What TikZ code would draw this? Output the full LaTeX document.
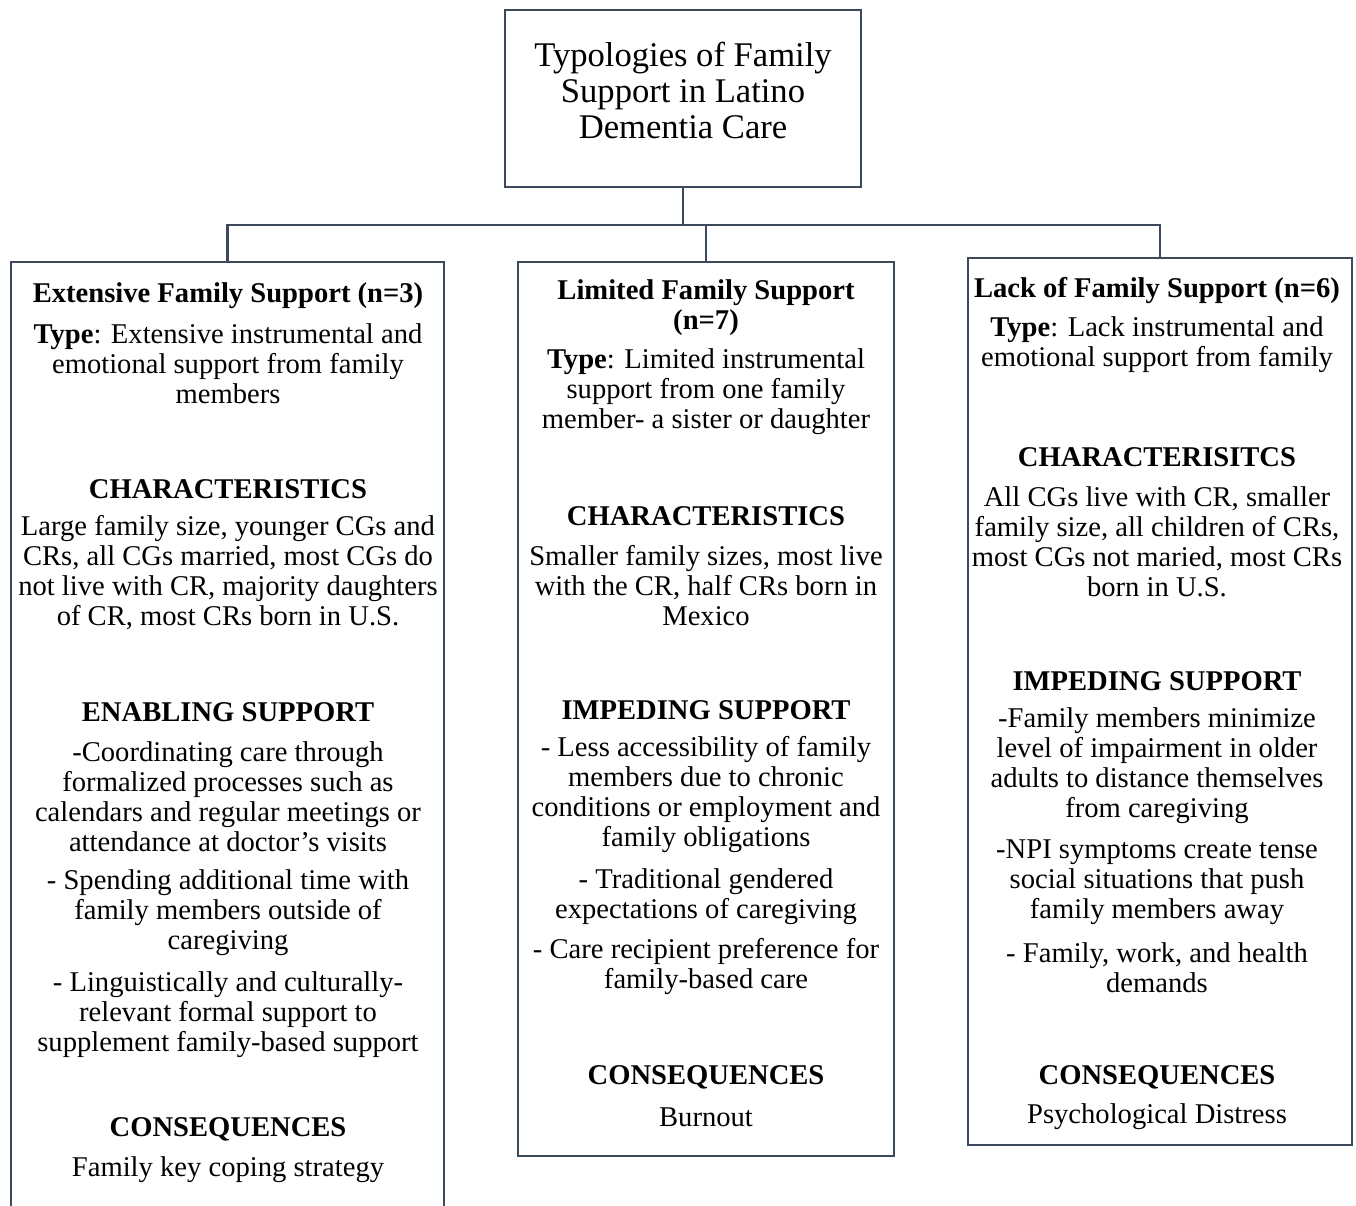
\documentclass[tikz,border=0pt]{standalone}
\usepackage{fontspec}
\setmainfont{Liberation Serif}
\definecolor{boxline}{HTML}{3D4A5C}
\begin{document}
\begin{tikzpicture}[x=1pt,y=-1pt,
  box/.style={draw=boxline, line width=2.2pt, fill=white, inner sep=0pt, outer sep=0pt},
  conn/.style={draw=boxline, line width=2.2pt},
  txt/.style={align=center, inner sep=0pt, font=\fontsize{28.6}{30}\selectfont},
  hd/.style={align=center, inner sep=0pt, font=\fontsize{28.6}{30}\selectfont\bfseries},
  ttl/.style={align=center, inner sep=0pt, font=\fontsize{34.6}{36}\selectfont}]
\clip (0,0) rectangle (1356,1205);
\fill[white] (0,0) rectangle (1356,1205);
% boxes
\node[box, anchor=north west, minimum width=356, minimum height=177] (top) at (505,10) {};
\node[box, anchor=north west, minimum width=433, minimum height=980] (left) at (11,262) {};
\node[box, anchor=north west, minimum width=376, minimum height=894] (mid) at (518,262) {};
\node[box, anchor=north west, minimum width=384, minimum height=887] (right) at (968,258) {};
% connectors
\coordinate (bus) at (683,225);
\draw[conn] (top.south) -- (bus);
\draw[conn] (left.north) -- (left.north |- bus) -- (right.north |- bus) -- (right.north);
\draw[conn] (mid.north) -- (mid.north |- bus);
% title
\node[ttl] (title) at (683,90) {Typologies of Family\\Support in Latino\\Dementia Care};
% left column
\node[hd] (l1) at (228,296) {Extensive Family Support (n=3)};
\node[txt] (l2) at (228,364) {\textbf{Type}: Extensive instrumental and\\emotional support from family\\members};
\node[hd] (l3) at (228,489) {CHARACTERISTICS};
\node[txt] (l4) at (228,573) {Large family size, younger CGs and\\CRs, all CGs married, most CGs do\\not live with CR, majority daughters\\of CR, most CRs born in U.S.};
\node[hd] (l5) at (228,712) {ENABLING SUPPORT};
\node[txt] (l6) at (228,797) {-Coordinating care through\\formalized processes such as\\calendars and regular meetings or\\attendance at doctor’s visits};
\node[txt] (l7) at (228,913) {- Spending additional time with\\family members outside of\\caregiving};
\node[txt] (l8) at (228,1015) {- Linguistically and culturally-\\relevant formal support to\\supplement family-based support};
\node[hd] (l9) at (228,1129) {CONSEQUENCES};
\node[txt] (l10) at (228,1170) {Family key coping strategy};
% middle column
\node[hd] (m1) at (706,308) {Limited Family Support\\(n=7)};
\node[txt] (m2) at (706,392) {\textbf{Type}: Limited instrumental\\support from one family\\member- a sister or daughter};
\node[hd] (m3) at (706,516) {CHARACTERISTICS};
\node[txt] (m4) at (706,586) {Smaller family sizes, most live\\with the CR, half CRs born in\\Mexico};
\node[hd] (m5) at (706,710) {IMPEDING SUPPORT};
\node[txt] (m6) at (706,795) {- Less accessibility of family\\members due to chronic\\conditions or employment and\\family obligations};
\node[txt] (m7) at (706,896.5) {- Traditional gendered\\expectations of caregiving};
\node[txt] (m8) at (706,967) {- Care recipient preference for\\family-based care};
\node[hd] (m9) at (706,1077) {CONSEQUENCES};
\node[txt] (m10) at (706,1117) {Burnout};
% right column
\node[hd] (r1) at (1157,291) {Lack of Family Support (n=6)};
\node[txt] (r2) at (1157,345) {\textbf{Type}: Lack instrumental and\\emotional support from family};
\node[hd] (r3) at (1157,457) {CHARACTERISITCS};
\node[txt] (r4) at (1157,541.5) {All CGs live with CR, smaller\\family size, all children of CRs,\\most CGs not maried, most CRs\\born in U.S.};
\node[hd] (r5) at (1157,681) {IMPEDING SUPPORT};
\node[txt] (r6) at (1157,765.5) {-Family members minimize\\level of impairment in older\\adults to distance themselves\\from caregiving};
\node[txt] (r7) at (1157,882) {-NPI symptoms create tense\\social situations that push\\family members away};
\node[txt] (r8) at (1157,968) {- Family, work, and health\\demands};
\node[hd] (r9) at (1157,1077) {CONSEQUENCES};
\node[txt] (r10) at (1157,1117) {Psychological Distress};
\end{tikzpicture}
\end{document}
